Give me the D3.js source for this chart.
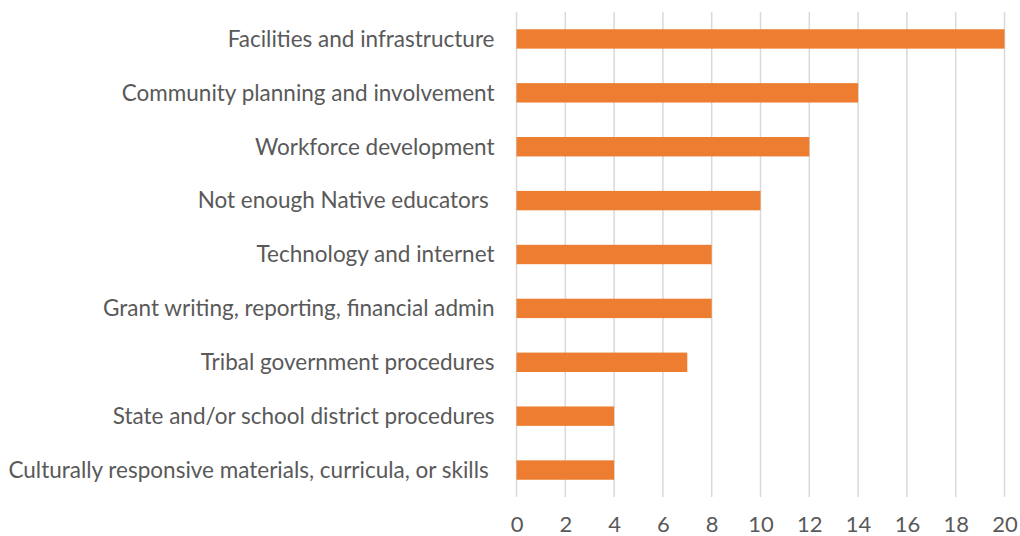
<!DOCTYPE html>
<html>
<head>
<meta charset="utf-8">
<script src="https://cdn.jsdelivr.net/npm/d3@7"></script>
<style>
  body { margin: 0; background: #fff; }
  svg text { font-family: Lato, "Open Sans", sans-serif; fill: #595959; }
</style>
</head>
<body>
<svg id="chart" width="1020" height="536"></svg>
<script>
const categories = [
  "Facilities and infrastructure",
  "Community planning and involvement",
  "Workforce development",
  "Not enough Native educators ",
  "Technology and internet",
  "Grant writing, reporting, financial admin",
  "Tribal government procedures",
  "State and/or school district procedures",
  "Culturally responsive materials, curricula, or skills "
];
const values = [20, 14, 12, 10, 8, 8, 7, 4, 4];
const ticks = [0, 2, 4, 6, 8, 10, 12, 14, 16, 18, 20];

const margin = { top: 12, right: 15.5, bottom: 39, left: 516.5 };
const width = 1020, height = 536;
const svg = d3.select("#chart");

const x = d3.scaleLinear().domain([0, 20]).range([margin.left, width - margin.right]);
const y = d3.scaleBand().domain(categories).range([margin.top, height - margin.bottom]).paddingInner(0.64).paddingOuter(0.32);

// gridlines
svg.append("g")
  .selectAll("line")
  .data(ticks)
  .join("line")
  .attr("x1", d => x(d)).attr("x2", d => x(d))
  .attr("y1", margin.top).attr("y2", height - margin.bottom)
  .attr("stroke", "#d9d9d9")
  .attr("stroke-width", 1.5);

// bars
svg.append("g")
  .selectAll("rect")
  .data(values)
  .join("rect")
  .attr("x", x(0))
  .attr("y", (d, i) => y(categories[i]))
  .attr("width", d => x(d) - x(0))
  .attr("height", y.bandwidth())
  .attr("fill", "#ed7d31");

// category labels
svg.append("g")
  .selectAll("text")
  .data(categories)
  .join("text")
  .attr("x", margin.left - 22)
  .attr("y", d => y(d) + y.bandwidth() / 2)
  .attr("dy", "0.35em")
  .attr("text-anchor", "end")
  .style("font-size", "22.5px")
  .style("white-space", "pre")
  .text(d => d);

// x tick labels
const xAxis = svg.append("g")
  .attr("transform", `translate(0,${height - margin.bottom})`)
  .call(d3.axisBottom(x).tickValues(ticks).tickSize(0).tickPadding(19));
xAxis.select(".domain").remove();
xAxis.selectAll("text").style("font-size", "22px").style("font-family", "Lato, sans-serif").attr("fill", "#595959");
</script>
</body>
</html>
